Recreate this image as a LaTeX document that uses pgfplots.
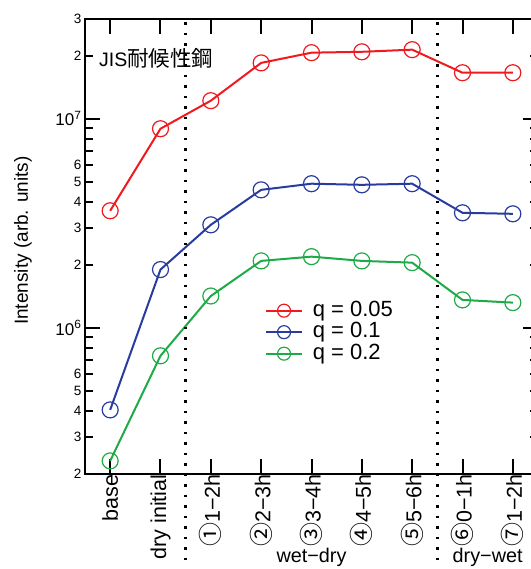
\documentclass[border=0pt]{standalone}
\usepackage{fontspec}
\setmainfont{Liberation Sans}
\newfontfamily\cjk{Noto Sans CJK JP}
\usepackage{pgfplots}
\pgfplotsset{compat=1.18}
\definecolor{cred}{RGB}{240,25,30}
\definecolor{cblue}{RGB}{40,60,160}
\definecolor{cgreen}{RGB}{30,170,70}
\newcommand{\cn}[1]{{\cjk\fontsize{24}{21}\selectfont #1}}
\begin{document}
\begin{tikzpicture}
\path[use as bounding box] (-85pt,-95pt) rectangle (445pt,474pt);
\begin{axis}[
  scale only axis, width=453pt, height=455pt,
  at={(0,0)}, anchor=south west,
  ymode=log, ymin=2e5, ymax=3e7,
  xmin=-0.5, xmax=8.5,
  clip=false,
  axis line style={line width=2.5pt},
  every tick/.style={line width=2pt, black},
  major tick length=15pt,
  xtick={0,...,8},
  xticklabels={base,dry initial,\cn{①}1−2h,\cn{②}2−3h,\cn{③}3−4h,\cn{④}4−5h,\cn{⑤}5−6h,\cn{⑥}0−1h,\cn{⑦}1−2h},
  xticklabel style={rotate=90, anchor=east, font=\fontsize{21.5}{21.5}\selectfont},
  xticklabel shift=-3pt,
  ytick={1e6,1e7},
  yticklabels={10\textsuperscript{6},10\textsuperscript{7}},
  yticklabel style={font=\fontsize{17}{17}\selectfont},
  yminorticks=false,
  extra y ticks={2e5,3e5,4e5,5e5,6e5,7e5,8e5,9e5,2e6,3e6,4e6,5e6,6e6,7e6,8e6,9e6,2e7,3e7},
  extra y tick labels={2,3,4,5,6,,,,2,3,4,5,6,,,,2,3},
  extra y tick style={major tick length=8pt, yticklabel style={font=\fontsize{13.5}{13.5}\selectfont}},
  ylabel={Intensity (arb. units)},
  every axis y label/.style={at={([xshift=-62pt]rel axis cs:0,0.513)}, rotate=90, anchor=center, font=\fontsize{19}{19}\selectfont},
  legend style={at={(rel axis cs:0.397,0.383)}, anchor=north west, draw=none, fill=none, font=\fontsize{22}{22}\selectfont, inner sep=0pt, row sep=0pt,
    nodes={text height=15.5pt, text depth=4.5pt, inner sep=0.75pt},
    /tikz/every odd column/.append style={column sep=9pt}},
  legend cell align=left,
  legend image code/.code={\draw[mark repeat=2, mark phase=2, #1, mark size=6.5pt] plot coordinates {(0pt,0pt) (18pt,0pt) (36pt,0pt)};},
]
\addplot[cred, line width=2pt, mark=o, mark size=8pt, mark options={line width=1.2pt}] coordinates {
(0,3.63e6) (1,8.96e6) (2,1.22e7) (3,1.85e7) (4,2.07e7) (5,2.09e7) (6,2.14e7) (7,1.66e7) (8,1.66e7)};
\addlegendentry{q = 0.05}
\addplot[cblue, line width=2pt, mark=o, mark size=8pt, mark options={line width=1.2pt}] coordinates {
(0,4.05e5) (1,1.90e6) (2,3.11e6) (3,4.57e6) (4,4.89e6) (5,4.83e6) (6,4.89e6) (7,3.55e6) (8,3.51e6)};
\addlegendentry{q = 0.1}
\addplot[cgreen, line width=2pt, mark=o, mark size=8pt, mark options={line width=1.2pt}] coordinates {
(0,2.31e5) (1,7.35e5) (2,1.42e6) (3,2.09e6) (4,2.19e6) (5,2.09e6) (6,2.05e6) (7,1.36e6) (8,1.32e6)};
\addlegendentry{q = 0.2}
\draw[line width=2.5pt, dash pattern=on 2.5pt off 8pt] (axis cs:1.5,2.9e7) -- ([yshift=-88pt]axis cs:1.5,2e5);
\draw[line width=2.5pt, dash pattern=on 2.5pt off 8pt] (axis cs:6.5,2.9e7) -- ([yshift=-88pt]axis cs:6.5,2e5);
\node[anchor=west, font=\fontsize{19.5}{19.5}\selectfont, inner sep=0pt] at ([xshift=14pt,yshift=-39pt]rel axis cs:0,1) {JIS{\cjk\fontsize{21.5}{21.5}\selectfont 耐候性鋼}};
\node[font=\fontsize{19.8}{19.8}\selectfont] at ([yshift=-83pt]axis cs:4,2e5) {wet−dry};
\node[font=\fontsize{19.8}{19.8}\selectfont] at ([yshift=-83pt]axis cs:7.5,2e5) {dry−wet};
\end{axis}
\end{tikzpicture}
\end{document}
